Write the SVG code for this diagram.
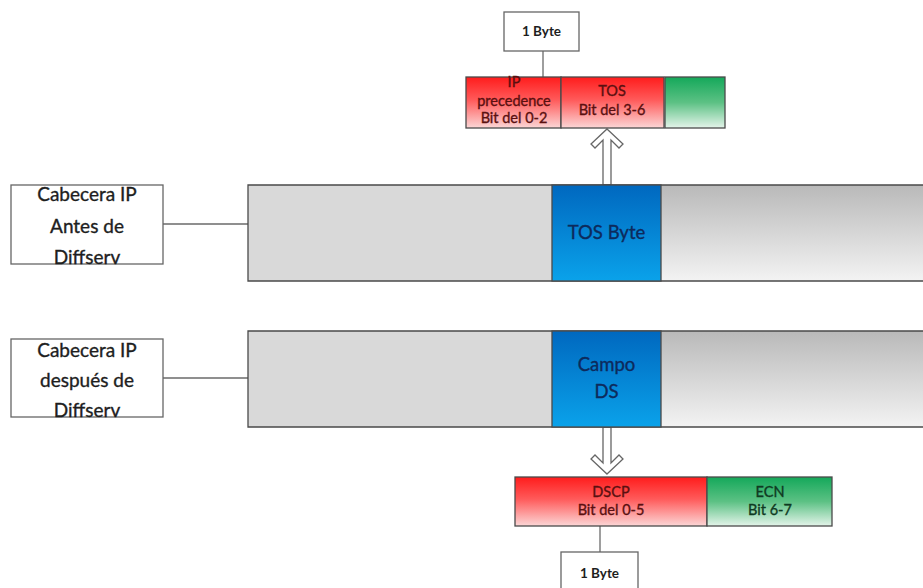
<svg xmlns="http://www.w3.org/2000/svg" width="923" height="588" viewBox="0 0 923 588">
  <defs>
    <linearGradient id="gRed" x1="0" y1="0" x2="0" y2="1">
      <stop offset="0" stop-color="#ff1c1c"/>
      <stop offset="0.45" stop-color="#ff5a5a"/>
      <stop offset="1" stop-color="#fbd6d6"/>
    </linearGradient>
    <linearGradient id="gGreen" x1="0" y1="0" x2="0" y2="1">
      <stop offset="0" stop-color="#14a85a"/>
      <stop offset="0.5" stop-color="#5cc184"/>
      <stop offset="1" stop-color="#e4f4ea"/>
    </linearGradient>
    <linearGradient id="gBlue" x1="0" y1="0" x2="0" y2="1">
      <stop offset="0" stop-color="#0068bf"/>
      <stop offset="1" stop-color="#0aa2ea"/>
    </linearGradient>
    <linearGradient id="gGray" x1="0" y1="0" x2="0" y2="1">
      <stop offset="0" stop-color="#b9b9b9"/>
      <stop offset="1" stop-color="#f3f3f3"/>
    </linearGradient>
    <style>
      .lbl { fill: #ffffff; stroke: #666666; stroke-width: 1.3; }
      .cell { stroke: #4a4a4a; stroke-width: 1.3; }
      .wire { stroke: #6a6a6a; stroke-width: 1.3; fill: none; }
      .arrow { fill: #ffffff; stroke: #666666; stroke-width: 1.3; stroke-linejoin: miter; }
      text { font-family: Lato, "Liberation Sans", sans-serif; text-anchor: middle; stroke-width: 0.35; }
      .big { font-size: 19px; fill: #1e1e1e; stroke: #1e1e1e; }
      .blue { font-size: 18.5px; fill: #0d2a5c; stroke: #0d2a5c; }
      .small { font-size: 14.5px; }
      .red { fill: #5a1010; stroke: #5a1010; }
      .grn { fill: #0f3a22; stroke: #0f3a22; }
      .byte { font-size: 13.5px; fill: #1e1e1e; font-weight: bold; }
    </style>
  </defs>

  <!-- connectors -->
  <g id="connectors">
    <line class="wire" x1="163" y1="224" x2="248" y2="224"/>
    <line class="wire" x1="163" y1="378" x2="248" y2="378"/>
    <line class="wire" x1="543" y1="51" x2="543" y2="77"/>
    <line class="wire" x1="600" y1="526" x2="600" y2="552"/>
    <polygon class="arrow" points="607,129 623,144 619,148 611,140 611,185 603,185 603,140 595,148 591,144"/>
    <polygon class="arrow" points="607,474 623,459 619,455 611,463 611,427 603,427 603,463 595,455 591,459"/>
  </g>

  <!-- top byte: IP precedence / TOS -->
  <g id="byte-top">
    <rect class="lbl" x="504" y="12" width="75" height="39"/>
    <text class="byte" x="541.5" y="36">1 Byte</text>
  </g>
  <g id="tos-bits">
    <rect class="cell" x="466" y="77" width="95" height="51" fill="url(#gRed)"/>
    <text class="small red" x="514" y="87">IP</text>
    <text class="small red" x="514" y="106">precedence</text>
    <text class="small red" x="514" y="123">Bit del 0-2</text>
    <rect class="cell" x="561" y="77" width="103" height="51" fill="url(#gRed)"/>
    <text class="small red" x="612" y="96">TOS</text>
    <text class="small red" x="612" y="115">Bit del 3-6</text>
    <rect class="cell" x="665" y="77" width="60" height="51" fill="url(#gGreen)"/>
  </g>

  <!-- header before Diffserv -->
  <g id="label-antes">
    <rect class="lbl" x="11" y="185" width="152" height="79"/>
    <text class="big" x="87" y="201">Cabecera IP</text>
    <text class="big" x="87" y="233">Antes de</text>
    <text class="big" x="87" y="264">Diffserv</text>
  </g>
  <g id="header-antes">
    <rect x="248" y="185" width="304" height="96" fill="#d9d9d9"/>
    <rect x="661" y="185" width="262" height="96" fill="url(#gGray)"/>
    <path class="wire" d="M923,185 H248 V281 H923" style="stroke:#4a4a4a"/>
    <rect class="cell" x="552" y="185" width="109" height="96" fill="url(#gBlue)"/>
    <text class="blue" x="606.5" y="239">TOS Byte</text>
  </g>

  <!-- header after Diffserv -->
  <g id="label-despues">
    <rect class="lbl" x="11" y="339" width="152" height="78"/>
    <text class="big" x="87" y="357">Cabecera IP</text>
    <text class="big" x="87" y="387">después de</text>
    <text class="big" x="87" y="417">Diffserv</text>
  </g>
  <g id="header-despues">
    <rect x="248" y="331" width="304" height="96" fill="#d9d9d9"/>
    <rect x="661" y="331" width="262" height="96" fill="url(#gGray)"/>
    <path class="wire" d="M923,331 H248 V427 H923" style="stroke:#4a4a4a"/>
    <rect class="cell" x="552" y="331" width="109" height="96" fill="url(#gBlue)"/>
    <text class="blue" x="606.5" y="371">Campo</text>
    <text class="blue" x="606.5" y="398">DS</text>
  </g>

  <!-- bottom byte: DSCP / ECN -->
  <g id="ds-bits">
    <rect class="cell" x="515" y="477" width="192" height="49" fill="url(#gRed)"/>
    <text class="small red" x="611" y="497">DSCP</text>
    <text class="small red" x="611" y="515">Bit del 0-5</text>
    <rect class="cell" x="707" y="477" width="125" height="49" fill="url(#gGreen)"/>
    <text class="small grn" x="770" y="497">ECN</text>
    <text class="small grn" x="770" y="515">Bit 6-7</text>
  </g>
  <g id="byte-bottom">
    <rect class="lbl" x="561" y="552" width="77" height="40"/>
    <text class="byte" x="599.5" y="578">1 Byte</text>
  </g>
</svg>
